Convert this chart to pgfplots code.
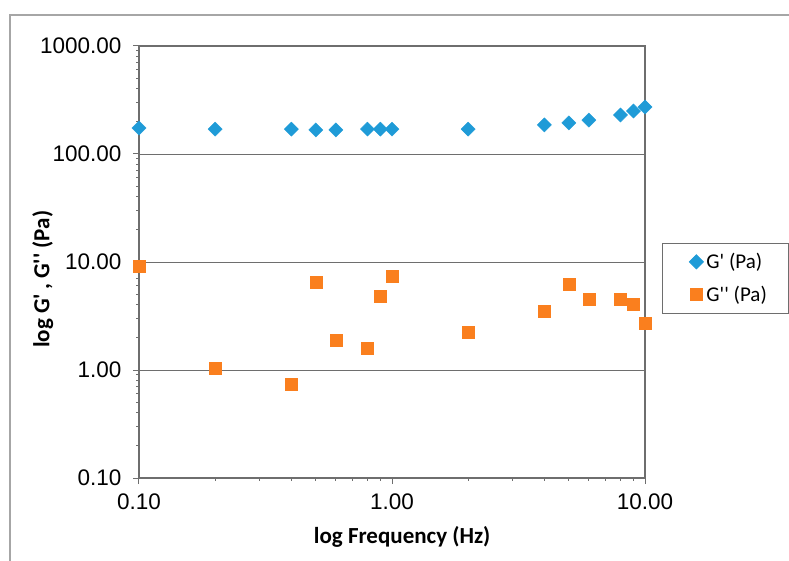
\documentclass[border=0pt]{standalone}
\usepackage{fontspec}
\setmainfont{Carlito}
\newfontfamily\arialf{Liberation Sans}
\usepackage{pgfplots}
\pgfplotsset{compat=1.18}
\definecolor{gblue}{RGB}{31,155,215}
\definecolor{gorange}{RGB}{250,127,30}
\definecolor{axgray}{RGB}{110,110,110}
\newcommand{\q}{\textquotesingle}
\begin{document}
\begin{tikzpicture}
\useasboundingbox (0pt,0pt) rectangle (789pt,560pt);
\draw[gray!70, line width=1.2pt] (10pt,-5pt) -- (10pt,545pt) -- (800pt,545pt);
\begin{axis}[
  at={(139pt,82pt)}, anchor=south west,
  scale only axis, width=506pt, height=432pt,
  xmode=log, ymode=log,
  xmin=0.1, xmax=10, ymin=0.1, ymax=1000,
  xtick={0.1,1,10}, xticklabels={0.10,1.00,10.00},
  ytick={0.1,1,10,100,1000}, yticklabels={0.10,1.00,10.00,100.00,1000.00},
  minor xtick={}, minor ytick={},
  xtick pos=lower, ytick pos=left,
  tick align=outside, major tick length=6pt,
  tick style={axgray, line width=1pt},
  axis line style={axgray, line width=1.2pt},
  ymajorgrids, major grid style={axgray, line width=0.9pt},
  ticklabel style={font=\arialf\fontsize{22.5}{26}\selectfont, text=black},
  xticklabel style={yshift=-6pt},
  yticklabel style={xshift=-8pt},
  xlabel={log Frequency (Hz)},
  ylabel={log G\q\,, G\q\q{} (Pa)},
  every axis x label/.style={at={(axis description cs:0.52,-0.1366)}, anchor=center, font=\bfseries\fontsize{23}{27}\selectfont},
  every axis y label/.style={at={(axis description cs:-0.19,0.46)}, rotate=90, anchor=center, font=\bfseries\fontsize{23}{27}\selectfont},
  clip=false,
  legend style={at={(axis description cs:1.0336,0.544)}, anchor=north west,
    draw=axgray, line width=0.8pt, font=\fontsize{21}{25}\selectfont,
    inner xsep=20pt, inner ysep=8pt, row sep=12pt,
    legend cell align=left},
  legend image code/.code={\path[draw=none] (0pt,0pt) -- (22pt,0pt); \draw[#1] plot coordinates {(14pt,0pt)};},
]
\addplot[only marks, mark=square*, mark size=5pt, color=gblue, mark options={draw=gblue, fill=gblue, rotate=45}] coordinates {
(0.1,174) (0.2,170) (0.4,170) (0.5,167) (0.6,167) (0.8,170) (0.9,170) (1.0,170)
(2.0,170) (4,186) (5,194) (6,206) (8,230) (9,250) (10,272)};
\addlegendentry{G\q{} (Pa)}
\addplot[only marks, mark=square*, mark size=6pt, color=gorange, mark options={draw=gorange, fill=gorange}] coordinates {
(0.1,9.18) (0.2,1.04) (0.4,0.74) (0.5,6.53) (0.6,1.90) (0.8,1.60) (0.9,4.84) (1.0,7.41)
(2.0,2.25) (4,3.52) (5,6.26) (6,4.54) (8,4.54) (9,4.08) (10,2.72)};
\addlegendentry{G\q\q{} (Pa)}
\end{axis}
\end{tikzpicture}
\end{document}
